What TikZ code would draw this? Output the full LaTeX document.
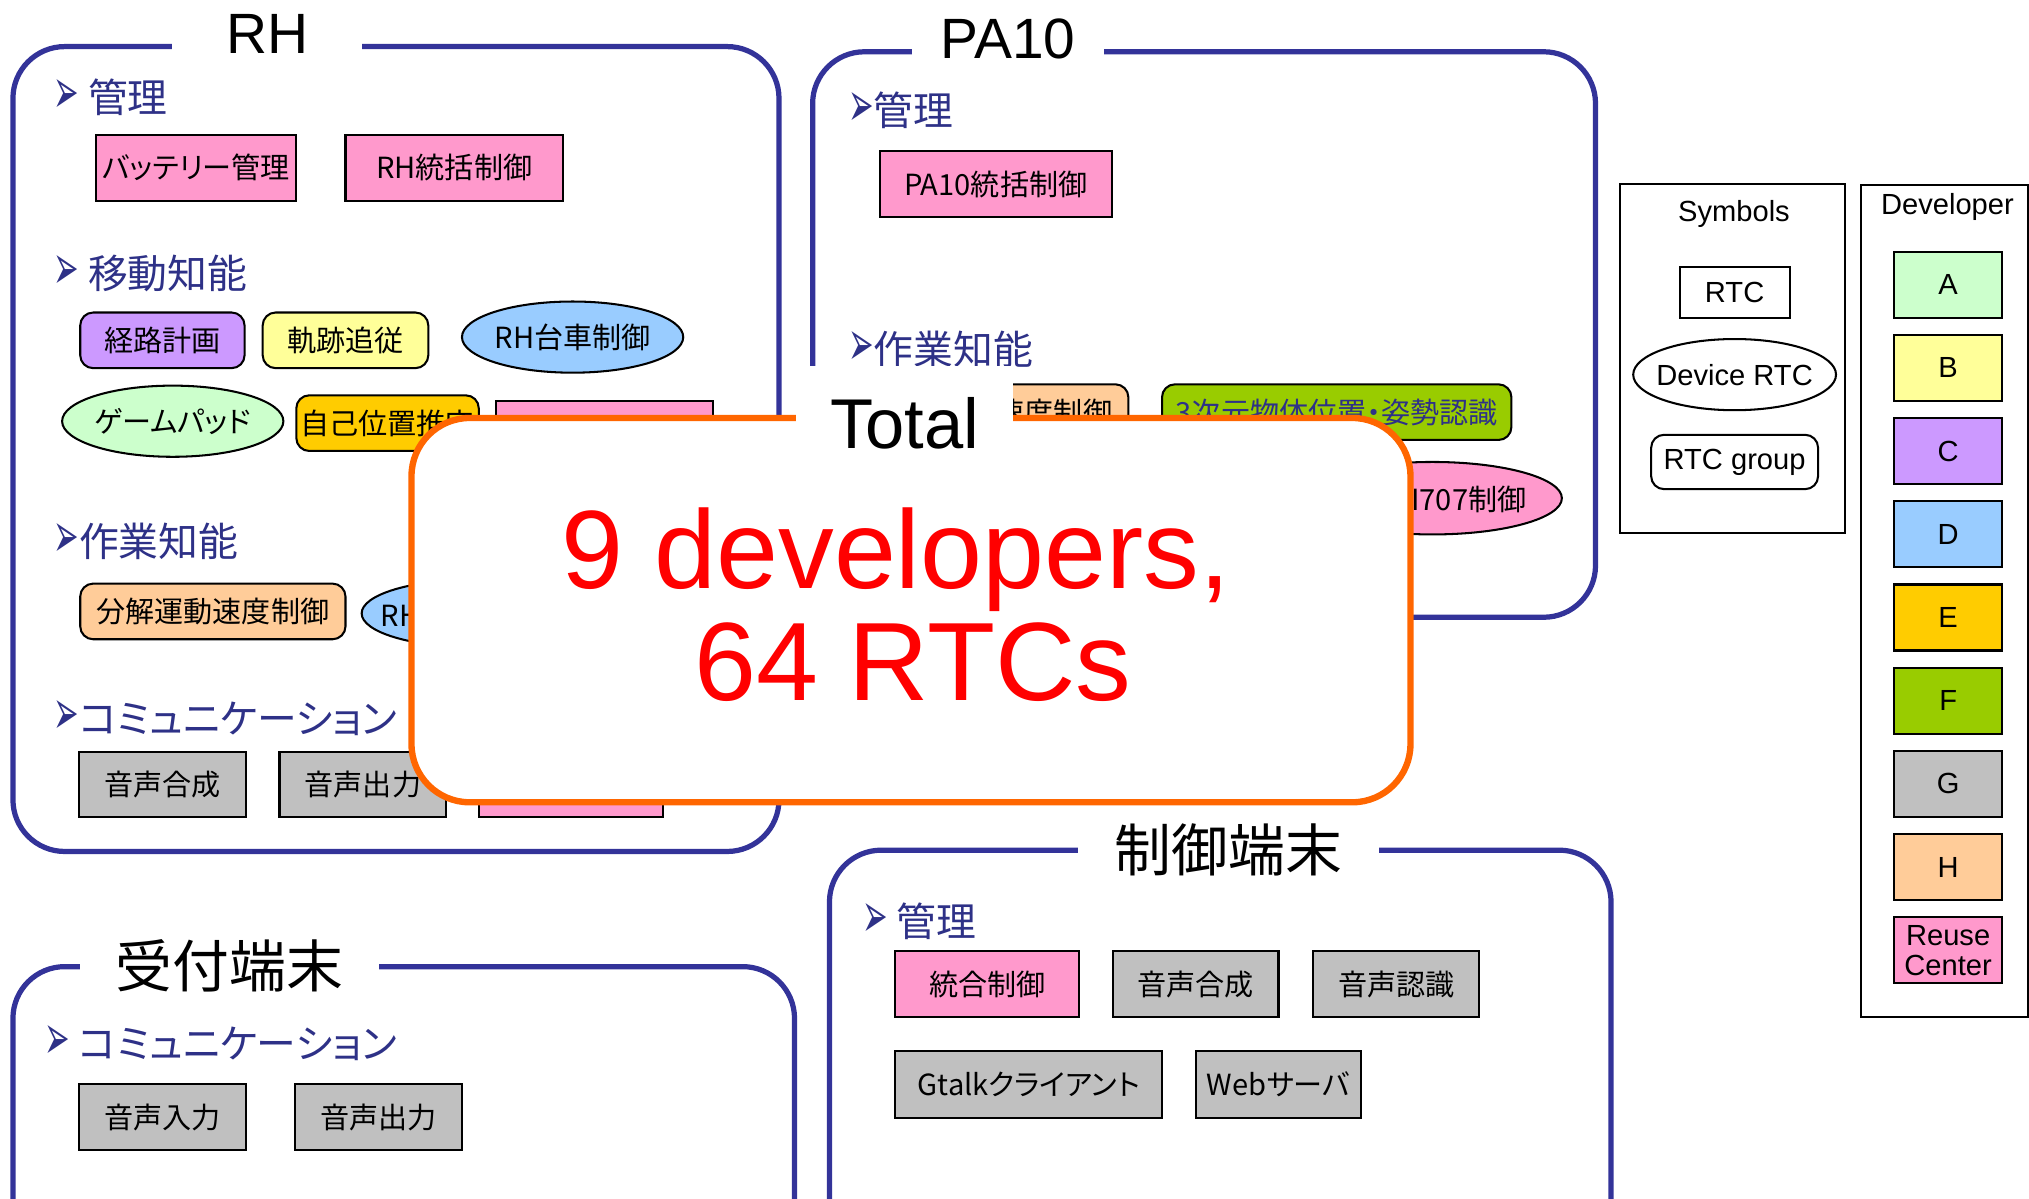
\documentclass[tikz,border=0pt]{standalone}
\usepackage{fontspec}
\setmainfont{Liberation Sans}
\newfontfamily\jpfont[RawFeature=+palt]{Noto Sans CJK JP}
\newfontfamily\dingfont{DejaVu Sans}
\usetikzlibrary{shapes.geometric, positioning, fit}

\definecolor{colA}{HTML}{CCFFCC}
\definecolor{colB}{HTML}{FFFF99}
\definecolor{colC}{HTML}{CC99FF}
\definecolor{colD}{HTML}{99CCFF}
\definecolor{colE}{HTML}{FFCC00}
\definecolor{colF}{HTML}{99CC00}
\definecolor{colG}{HTML}{C0C0C0}
\definecolor{colH}{HTML}{FFCC99}
\definecolor{colR}{HTML}{FF99CC}
\definecolor{frameblue}{HTML}{333399}
\definecolor{headblue}{HTML}{2E3187}
\definecolor{totalorange}{HTML}{FF6600}

\newcommand\rtcfont{\jpfont\fontsize{12.8}{14}\selectfont}
\newcommand\headfont{\jpfont\fontsize{17.5}{20}\selectfont}
\newcommand\titlefont{\fontsize{25}{30}\selectfont}
\newcommand\jptitlefont{\jpfont\fontsize{25}{30}\selectfont}
\newcommand\legfont{\fontsize{12.8}{13.2}\selectfont}
\newcommand\hbul{{\dingfont\fontsize{28}{28}\selectfont\raisebox{-0.6pt}{\scalebox{0.48}[1]{➢}}}}

\tikzset{
    base/.style={draw=black, line width=0.9pt, font=\rtcfont, align=center, inner sep=0pt},
    rtc/.style={base, rectangle, minimum height=10.2mm},
    rtcgroup/.style={base, rectangle, rounded corners=2mm, minimum height=8.6mm},
    devrtc/.style={base, ellipse, minimum height=11mm, inner xsep=-1mm},
    grpframe/.style={draw=frameblue, line width=2.3pt, rounded corners=8mm, inner sep=0pt},
    grptitle/.style={fill=white, font=\titlefont, inner sep=0pt, minimum height=10mm},
    heading/.style={anchor=west, inner sep=0pt, text=headblue, font=\headfont},
    legframe/.style={draw=black, line width=0.9pt, inner sep=0pt},
    legtext/.style={font=\legfont, inner sep=0pt},
    devbox/.style={base, font=\legfont, minimum width=16.6mm, minimum height=10.2mm},
    totalbox/.style={draw=totalorange, line width=2.8pt, fill=white, rounded corners=9mm, inner sep=0pt},
    bigred/.style={text=red, font=\fontsize{49}{56}\selectfont, inner sep=0pt, anchor=base}
}

\begin{document}
\begin{tikzpicture}[x=0.2mm, y=-0.2mm]
    \useasboundingbox (0,0) rectangle (1568,926);

    % RH
    \node [grpframe, fit={(10,36) (602,658)}] (rhgrp) {};
    \node [grptitle, minimum width=29.4mm] (rhtitle) at (206.5,26) {RH};
    \node [heading] (rhmgmt) at (41,75) {\hbul\ 管理};
    \node [rtc, fill=colR, minimum width=31mm] (battery) at (151.5,129.5) {バッテリー管理};
    \node [rtc, fill=colR, minimum width=33.6mm] (rhctrl) at (351,129.5) {RH統括制御};
    \node [heading] (rhmove) at (41,211) {\hbul\ 移動知能};
    \node [rtcgroup, fill=colC, minimum width=25.4mm] (pathplan) at (125.5,263) {経路計画};
    \node [rtcgroup, fill=colB, minimum width=25.6mm] (tracking) at (267,263) {軌跡追従};
    \node [devrtc, fill=colD, minimum width=34.2mm] (rhcart) at (442.5,260.5) {RH台車制御};
    \node [devrtc, fill=colA, minimum width=34.2mm] (gamepad) at (133.5,325.5) {ゲームパッド};
    \node [rtcgroup, fill=colE, minimum width=28.2mm] (selfloc) at (299.5,327) {自己位置推定};
    \node [rtc, fill=colR, minimum width=33.6mm] (rhpink) at (467,335.5) {};
    \node [heading] (rhtask) at (41,418) {\hbul 作業知能};
    \node [rtcgroup, fill=colH, minimum width=41mm] (rhdecomp) at (164.5,472.5) {分解運動速度制御};
    \node [devrtc, fill=colD, minimum width=34.2mm, minimum height=10.4mm] (rharm) at (365,474) {};
    \node [anchor=west, font=\rtcfont, inner sep=0pt] (rharmtxt) at (294,476) {RH};
    \node [heading] (rhcomm) at (41,555) {\hbul コミュニケーション};
    \node [rtc, fill=colG, minimum width=25.8mm, minimum height=10mm] (rhsynth) at (125.5,606) {音声合成};
    \node [rtc, fill=colG, minimum width=25.8mm, minimum height=10mm] (rhspeak) at (280.5,606) {音声出力};
    \node [rtc, fill=colR, minimum width=28.4mm, minimum height=10mm] (rhpinkb) at (441,606) {};

    % PA10
    \node [grpframe, fit={(628,40) (1233,477)}] (pagrp) {};
    \node [grptitle, minimum width=29.6mm] (patitle) at (779,30) {PA10};
    \node [heading] (pamgmt) at (655,85) {\hbul 管理};
    \node [rtc, fill=colR, minimum width=35.8mm] (pactrl) at (769.5,142.5) {PA10統括制御};
    \node [heading] (patask) at (655,270) {\hbul 作業知能};
    \node [rtcgroup, fill=colH, minimum width=41mm] (padecomp) at (769.5,318.5) {分解運動速度制御};
    \node [rtcgroup, fill=colF, minimum width=54mm, text=headblue] (pavision) at (1033,318.5) {3次元物体位置・姿勢認識};
    \node [devrtc, fill=colR, minimum width=40mm, minimum height=11.2mm] (pahand) at (1107,385) {};
    \node [anchor=east, font=\rtcfont, inner sep=0pt] (pahandtxt) at (1180,386) {I707制御};

    % 制御端末
    \node [grpframe, fit={(641,657) (1245,990)}] (ctrlgrp) {};
    \node [grptitle, minimum width=46.6mm, font=\jptitlefont] (ctrltitle) at (949.5,657) {制御端末};
    \node [heading] (ctrlmgmt) at (666,712) {\hbul\ 管理};
    \node [rtc, fill=colR, minimum width=28.4mm] (integ) at (763,760.5) {統合制御};
    \node [rtc, fill=colG, minimum width=25.6mm] (ctrlsynth) at (924,760.5) {音声合成};
    \node [rtc, fill=colG, minimum width=25.6mm] (ctrlrecog) at (1079,760.5) {音声認識};
    \node [rtc, fill=colG, minimum width=41.2mm, minimum height=10.4mm] (gtalk) at (795,838) {Gtalkクライアント};
    \node [rtc, fill=colG, minimum width=25.6mm, minimum height=10.4mm] (websrv) at (988,838) {Webサーバ};

    % 受付端末
    \node [grpframe, fit={(10,747) (614,990)}] (rcptgrp) {};
    \node [grptitle, minimum width=46.2mm, font=\jptitlefont] (rcpttitle) at (177.5,746) {受付端末};
    \node [heading] (rcptcomm) at (34,806) {\hbul\ コミュニケーション};
    \node [rtc, fill=colG, minimum width=25.8mm] (rcptin) at (125.5,863.5) {音声入力};
    \node [rtc, fill=colG, minimum width=25.8mm] (rcptout) at (292.5,863.5) {音声出力};

    % Total
    \node [totalbox, fit={(318,323) (1090,620)}] (total) {};
    \node [grptitle, minimum width=33.6mm, minimum height=17.6mm, font=\fontsize{31}{36}\selectfont] (totaltitle) at (699,327) {Total};
    \node [bigred] (devcount) at (692.5,455) {9 developers,};
    \node [bigred] (rtccount) at (705.5,541) {64 RTCs};

    % Symbols
    \node [legframe, fit={(1252,142) (1426,412)}] (symframe) {};
    \node [legtext] (symtitle) at (1340,165) {Symbols};
    \node [rtc, fill=white, font=\legfont, minimum width=17mm, minimum height=8mm] (symrtc) at (1340.5,226) {RTC};
    \node [devrtc, fill=white, font=\legfont, minimum width=31mm] (symdev) at (1340.5,289.5) {Device RTC};
    \node [rtcgroup, fill=white, font=\legfont, minimum width=25.8mm, minimum height=8.4mm] (symgrp) at (1340.5,357) {RTC group};

    % Developer
    \node [legframe, fit={(1438,143) (1567,786)}] (devframe) {};
    \node [legtext] (devtitle) at (1505,160) {Developer};
    \foreach \d/\c [count=\i from 0] in {A/colA, B/colB, C/colC, D/colD, E/colE, F/colF, G/colG, H/colH}
        \node [devbox, fill=\c] (dev\d) at (1505.5,{220+64.3*\i}) {\d};
    \node [devbox, fill=colR] (devreuse) at (1505.5,734.5) {Reuse\\Center};
\end{tikzpicture}
\end{document}
